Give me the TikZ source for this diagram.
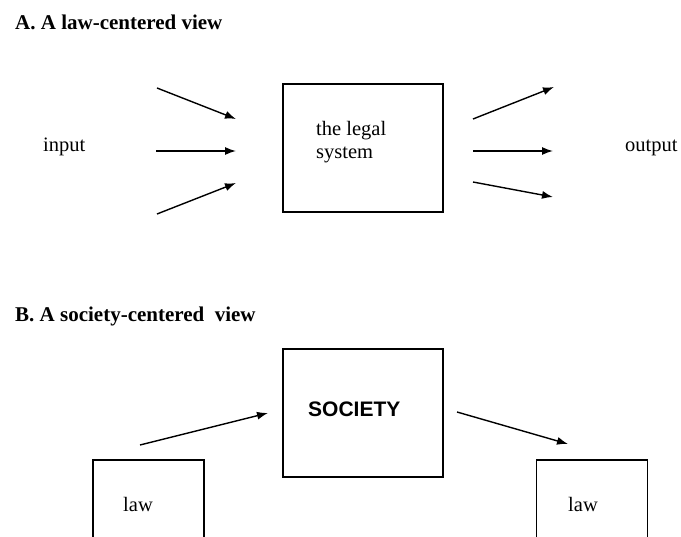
\documentclass[tikz,border=0pt]{standalone}
\usepackage{fontspec}
\setmainfont{Liberation Serif}
\newfontfamily\sansbold{Liberation Sans}
\usetikzlibrary{arrows.meta,positioning}
\tikzset{
    semithick,
    box/.style ={rectangle, draw, line width=1.4pt, inner sep=0pt, outer sep=0pt, minimum width=160pt, minimum height=128pt},
    lawbox/.style ={rectangle, draw, line width=1.4pt, inner sep=0pt, outer sep=0pt, minimum width=111pt, minimum height=160pt},
    txt/.style ={inner sep=0pt, align=left, font=\fontsize{20.5}{23}\selectfont},
    heading/.style ={inner sep=0pt, font=\fontsize{21}{25}\selectfont\bfseries}
}

\begin{document}
\begin{tikzpicture}[x=1pt,y=-1pt,
paths/.style={-{Latex[length=11pt,width=8pt]}, line width=1.4pt}]
\clip (0,0) rectangle (681,537);
% A. law-centered view
\node [heading, anchor=base west] (titleA) at (15,30) {A. A law-centered view};
\node [box] (legal) at (363,148) {};
\node [txt, anchor=north west] (legaltxt) at (316,121) {the legal\\system};
\node [txt, anchor=base west] (input) at (43,152) {input};
\node [txt, anchor=base west] (output) at (625,152) {output};
\foreach \n/\xa/\ya/\xb/\yb in {inA/157/88/236/119, inB/156/151/236/151, inC/157/214/236/183,
outA/473/119/554/87, outB/473/151/553/151, outC/473/182/553/197}
{
\coordinate (\n s) at (\xa,\ya);
\coordinate (\n e) at (\xb,\yb);
\draw [paths] (\n s) -- (\n e);
}
% B. society-centered view
\node [heading, anchor=base west] (titleB) at (15,322) {B. A society-centered \ view};
\node [box] (society) [below=137pt of legal] {};
\node [anchor=base west, inner sep=0pt, font=\fontsize{21}{25}\sansbold\bfseries] (societytxt) at (308,417) {SOCIETY};
\node [lawbox] (lawL) at (148.5,540) {};
\node [lawbox] (lawR) at (592,540) {};
\node [txt, anchor=base west] (lawLtxt) at (123,512) {law};
\node [txt, anchor=base west] (lawRtxt) at (568,512) {law};
\coordinate (toS) at (140,445);
\coordinate (toSe) at (268,413);
\coordinate (fromS) at (457,412);
\coordinate (fromSe) at (568,444);
\draw [paths] (toS) -- (toSe);
\draw [paths] (fromS) -- (fromSe);
\end{tikzpicture}
\end{document}
